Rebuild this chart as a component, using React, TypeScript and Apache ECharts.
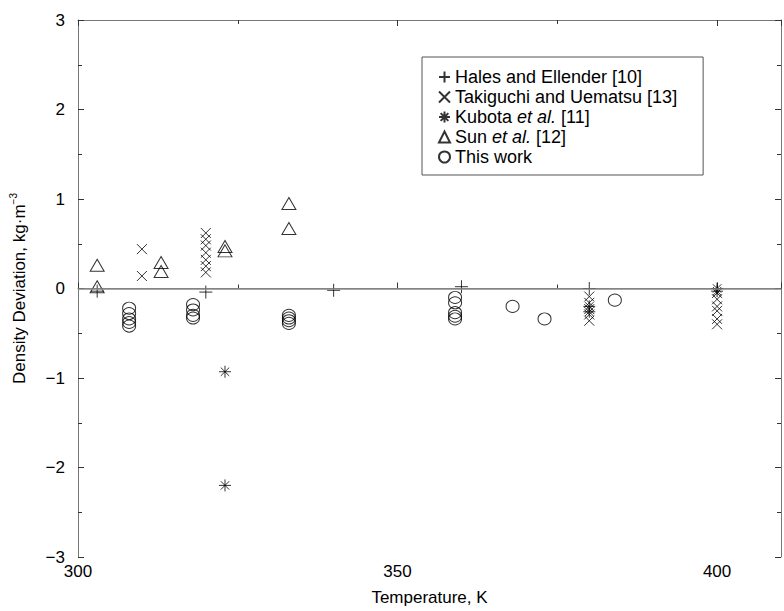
import React, { useEffect, useRef } from "react";
import * as echarts from "echarts";

const legendNames = [
  "Hales and Ellender [10]",
  "Takiguchi and Uematsu [13]",
  "Kubota et al. [11]",
  "Sun et al. [12]",
  "This work",
];

const halesData = [
  [303, -0.03], [320, -0.04], [340, -0.02], [360, 0.02], [380, 0.0],
];
const takiguchiData = [
  [310, 0.44], [310, 0.14],
  [320, 0.62], [320, 0.55], [320, 0.48], [320, 0.4], [320, 0.32], [320, 0.25], [320, 0.18],
  [380, -0.09], [380, -0.16], [380, -0.23], [380, -0.29], [380, -0.36],
  [400, -0.05], [400, -0.12], [400, -0.2], [400, -0.25], [400, -0.34], [400, -0.4],
];
const kubotaData = [
  [323, -0.93], [323, -2.2], [380, -0.2], [380, -0.26], [400, 0.0], [400, -0.03],
];
const sunData = [
  [303, 0.26], [303, 0.02], [313, 0.29], [313, 0.19], [323, 0.47], [323, 0.42], [333, 0.95], [333, 0.67],
];
const thisWorkData = [
  [308, -0.22], [308, -0.28], [308, -0.34], [308, -0.38], [308, -0.42],
  [318, -0.18], [318, -0.24], [318, -0.3], [318, -0.33],
  [333, -0.3], [333, -0.33], [333, -0.36], [333, -0.39],
  [359, -0.1], [359, -0.16], [359, -0.27], [359, -0.31], [359, -0.34],
  [368, -0.2], [373, -0.34], [384, -0.13],
];

const xTicks = [300, 350, 400];
const yTicks = [-3, -2, -1, 0, 1, 2, 3];

const PLUS = "path://M0,5L10,5M5,0L5,10";
const CROSS = "path://M0,0L10,10M0,10L10,0";
const STAR = "path://M0,5L10,5M5,0L5,10M1.5,1.5L8.5,8.5M1.5,8.5L8.5,1.5";

const FONT = "'Liberation Sans', Arial, Helvetica, sans-serif";

export default function App() {
  const ref = useRef<HTMLDivElement>(null);
  useEffect(() => {
    if (!ref.current) return;
    const chart = echarts.init(ref.current, null, { renderer: "svg" });
    const hollow = { color: "rgba(0,0,0,0)", borderColor: "#000", borderWidth: 1 };
    const fmtNum = (v: number) => String(v).replace("-", "\u2212");
    const legendFmt = (name: string) => {
      if (name.indexOf("et al.") >= 0) {
        const [a, b] = name.split("et al.");
        return `{n|${a}}{i|et al.}{n|${b}}`;
      }
      return `{n|${name}}`;
    };
    const axisLineStyle = { color: "#777", width: 1 };
    const tickStyle = { color: "#333" };
    chart.setOption({
      animation: false,
      backgroundColor: "#fff",
      textStyle: { fontFamily: FONT },
      grid: { left: 78, right: 1, top: 20, bottom: 52, containLabel: false },
      legend: {
        show: true,
        data: legendNames,
        orient: "vertical",
        left: 422,
        top: 57,
        backgroundColor: "#fff",
        borderColor: "#555",
        borderWidth: 1,
        padding: [11, 26, 9, 16],
        itemGap: 2,
        itemWidth: 11,
        itemHeight: 11,
        selectedMode: false,
        formatter: legendFmt,
        textStyle: {
          fontFamily: FONT,
          color: "#000",
          fontSize: 18,
          rich: {
            n: { fontSize: 18, fontFamily: FONT, color: "#000", lineHeight: 20 },
            i: { fontSize: 18, fontFamily: FONT, fontStyle: "italic", color: "#000", lineHeight: 20 },
          },
        },
      },
      xAxis: [
        {
          type: "value",
          min: 300,
          max: 410,
          interval: 50,
          name: "Temperature, K",
          nameLocation: "middle",
          nameGap: 32,
          nameTextStyle: { fontSize: 17, color: "#000", fontFamily: FONT },
          axisLine: { show: true, lineStyle: axisLineStyle },
          axisTick: { show: true, inside: true, length: 6, lineStyle: tickStyle },
          minorTick: { show: true, splitNumber: 2, length: 4, lineStyle: tickStyle },
          splitLine: { show: false },
          axisLabel: {
            fontSize: 17,
            color: "#000",
            fontFamily: FONT,
            margin: 6,
            formatter: (v: number) => (xTicks.includes(v) ? String(v) : ""),
          },
        },
        {
          type: "value",
          position: "top",
          min: 300,
          max: 410,
          interval: 50,
          axisLine: { show: true, onZero: false, lineStyle: axisLineStyle },
          axisTick: { show: true, inside: true, length: 6, lineStyle: tickStyle },
          minorTick: { show: true, splitNumber: 2, length: 4, lineStyle: tickStyle },
          splitLine: { show: false },
          axisLabel: { show: false },
        },
      ],
      yAxis: [
        {
          type: "value",
          min: -3,
          max: 3,
          interval: 1,
          name: "{a|Density Deviation, kg\u00b7m}{s|\u22123}",
          nameLocation: "middle",
          nameGap: 48,
          nameRotate: 90,
          nameTextStyle: {
            color: "#000",
            rich: {
              a: { fontSize: 17, fontFamily: FONT, color: "#000", lineHeight: 22 },
              s: { fontSize: 10, fontFamily: FONT, color: "#000", verticalAlign: "top", lineHeight: 10 },
            },
          },
          axisLine: { show: true, onZero: false, lineStyle: axisLineStyle },
          axisTick: { show: true, inside: true, length: 6, lineStyle: tickStyle },
          minorTick: { show: true, splitNumber: 2, length: 4, lineStyle: tickStyle },
          splitLine: { show: false },
          axisLabel: {
            fontSize: 17,
            color: "#000",
            fontFamily: FONT,
            margin: 13,
            formatter: (v: number) => (yTicks.includes(v) ? fmtNum(v) : ""),
          },
        },
        {
          type: "value",
          position: "right",
          min: -3,
          max: 3,
          interval: 1,
          axisLine: { show: true, onZero: false, lineStyle: axisLineStyle },
          axisTick: { show: true, inside: true, length: 6, lineStyle: tickStyle },
          minorTick: { show: true, splitNumber: 2, length: 4, lineStyle: tickStyle },
          splitLine: { show: false },
          axisLabel: { show: false },
        },
      ],
      series: [
        {
          name: "zero",
          type: "line",
          data: [],
          silent: true,
          z: 1,
          markLine: {
            silent: true,
            symbol: "none",
            label: { show: false },
            lineStyle: { color: "#888", width: 1.6, type: "solid" },
            data: [{ yAxis: 0 }],
          },
        },
        {
          name: legendNames[0],
          type: "scatter",
          data: halesData,
          symbol: PLUS,
          symbolSize: 13,
          itemStyle: hollow,
          z: 3,
        },
        {
          name: legendNames[1],
          type: "scatter",
          data: takiguchiData,
          symbol: CROSS,
          symbolSize: 10,
          itemStyle: hollow,
          z: 3,
        },
        {
          name: legendNames[2],
          type: "scatter",
          data: kubotaData,
          symbol: STAR,
          symbolSize: 12,
          itemStyle: hollow,
          z: 3,
        },
        {
          name: legendNames[3],
          type: "scatter",
          data: sunData,
          symbol: "triangle",
          symbolSize: [14, 12],
          itemStyle: hollow,
          z: 3,
        },
        {
          name: legendNames[4],
          type: "scatter",
          data: thisWorkData,
          symbol: "circle",
          symbolSize: [13, 12],
          itemStyle: hollow,
          z: 3,
        },
      ],
    });
    return () => chart.dispose();
  }, []);
  return (
    <div
      ref={ref}
      style={{ width: 784, height: 611, position: "absolute", left: 0, top: 0, background: "#fff" }}
    />
  );
}
